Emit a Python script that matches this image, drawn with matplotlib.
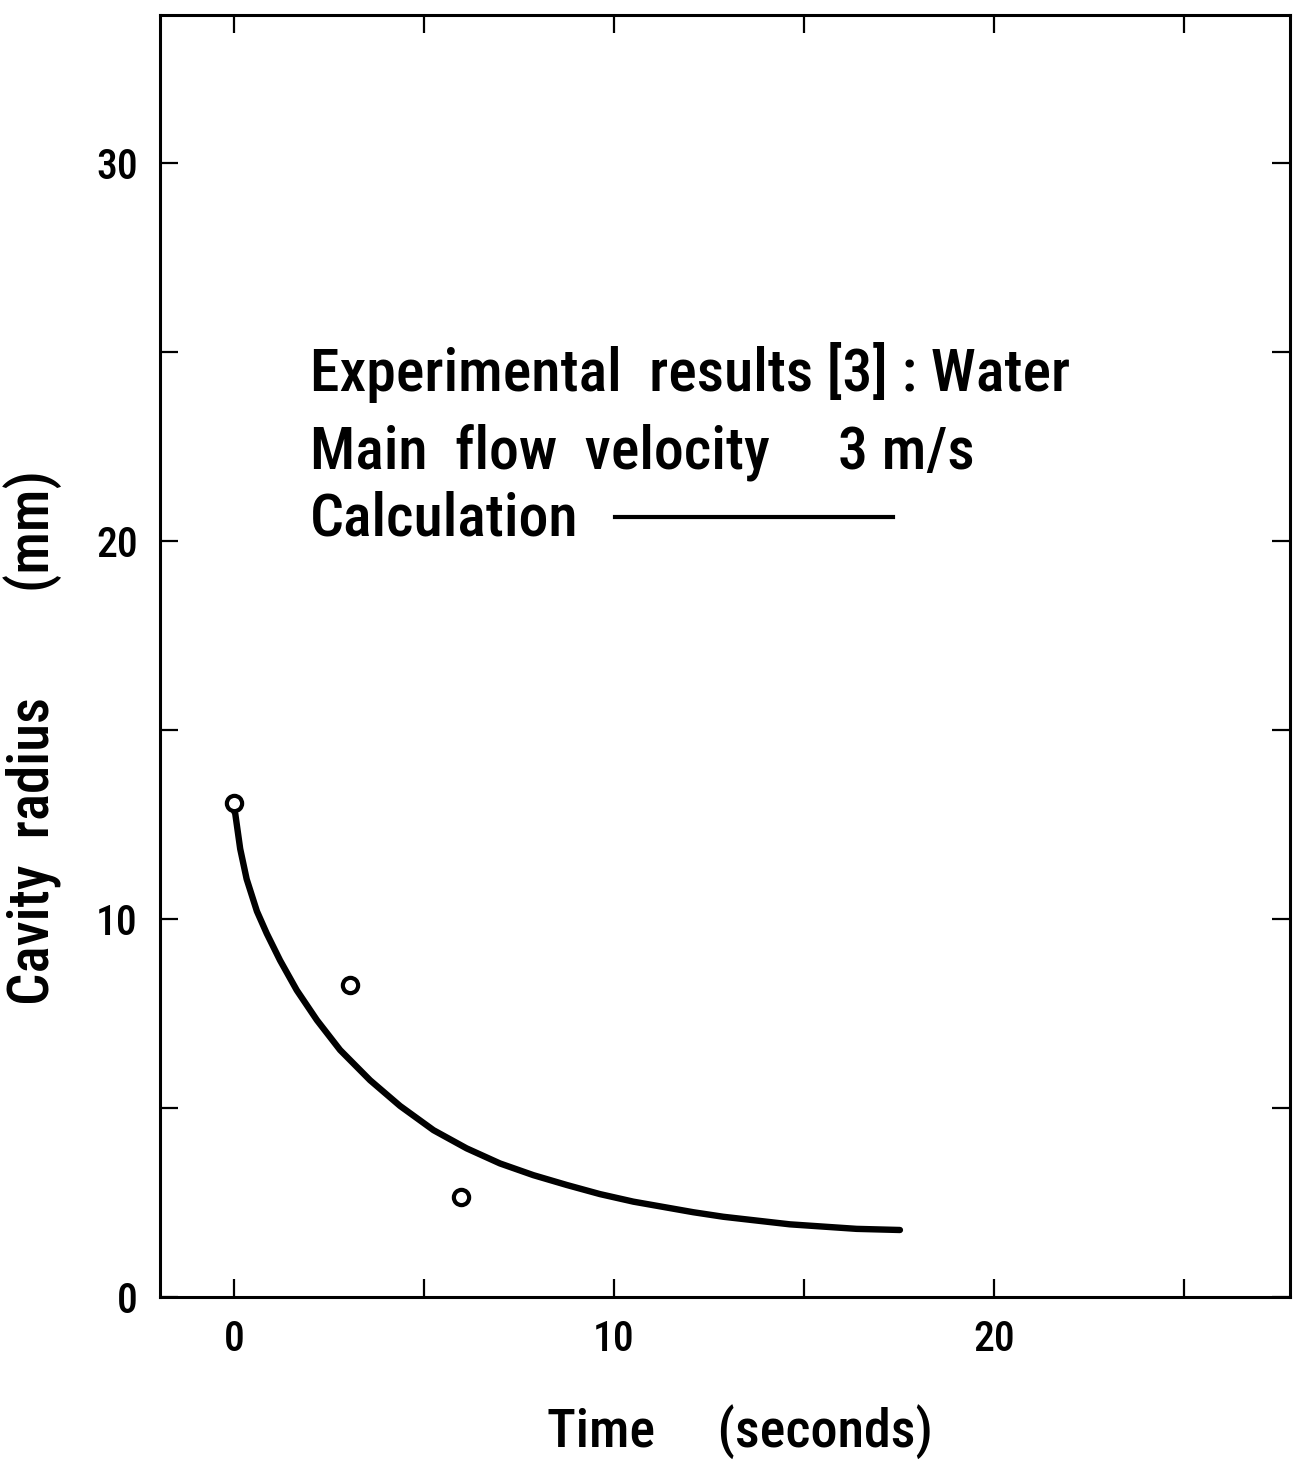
import matplotlib
matplotlib.use("Agg")
import matplotlib.pyplot as plt

# experimental points (water, 3 m/s)
exp_t = [0.0, 3.05, 5.97]
exp_r = [13.05, 8.25, 2.64]

# calculated cavity radius
calc_t = [0.0, 0.03, 0.16, 0.33, 0.60, 0.86, 1.21, 1.65, 2.18, 2.79, 3.58, 4.37,
          5.25, 6.12, 7.0, 7.88, 8.76, 9.63, 10.51, 12.09, 12.88, 14.63, 16.39, 17.53]
calc_r = [12.85, 12.78, 11.85, 11.05, 10.2, 9.61, 8.90, 8.11, 7.32, 6.53, 5.73, 5.05,
          4.41, 3.93, 3.53, 3.22, 2.96, 2.72, 2.52, 2.24, 2.12, 1.92, 1.80, 1.77]

x_ticks = [0, 5, 10, 15, 20, 25]
x_labels = ["0", "", "10", "", "20", ""]
y_ticks = [0, 5, 10, 15, 20, 25, 30]
y_labels = ["0", "", "10", "", "20", "", "30"]

plt.rcParams["font.family"] = ["Roboto Condensed", "Roboto", "DejaVu Sans"]
plt.rcParams["font.weight"] = "medium"

fig = plt.figure(figsize=(12.97, 14.61), dpi=100)
ax = fig.add_axes([0.1234, 0.1123, 0.8712, 0.8774])

ax.plot(calc_t, calc_r, c="black", linewidth=4.6, solid_capstyle="round")
ax.plot(exp_t, exp_r, "o", mfc="white", mec="black", ms=11, mew=3, zorder=3)

ax.set_xlim(-1.95, 27.8)
ax.set_ylim(0, 33.9)
ax.set_xticks(x_ticks)
ax.set_xticklabels(x_labels)
ax.set_yticks(y_ticks)
ax.set_yticklabels(y_labels)
ax.tick_params(direction="in", length=13, width=1.6, labelsize=30,
               top=True, right=True, pad=16)
for s in ax.spines.values():
    s.set_linewidth(2.2)

ax.set_xlabel("Time     (seconds)", fontsize=39, fontweight="medium")
ax.xaxis.set_label_coords(0.513, -0.084)
ax.set_ylabel("Cavity  radius        (mm)", fontsize=41, fontweight="medium")
ax.yaxis.set_label_coords(-0.087, 0.436)

fs = 43
ax.text(2.0, 23.96, "Experimental  results [3] : Water", fontsize=fs)
ax.text(2.0, 21.9, "Main  flow  velocity", fontsize=fs)
ax.text(15.9, 21.9, "3 m/s", fontsize=fs)
ax.text(2.0, 20.13, "Calculation", fontsize=fs)
ax.plot([10.03, 17.34], [20.63, 20.63], c="black", linewidth=3)

fig.savefig("out.png", dpi=100)
